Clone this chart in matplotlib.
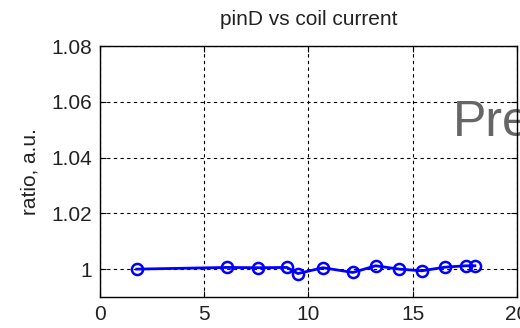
import matplotlib
matplotlib.use("Agg")
import matplotlib.pyplot as plt

coil_current = [1.76, 6.09, 7.6, 8.97, 9.49, 10.69, 12.13, 13.22, 14.34, 15.43, 16.55, 17.55, 17.98]
ratio = [1.0000, 1.0006, 1.0005, 1.0006, 0.9984, 1.0005, 0.9988, 1.0012, 1.0000, 0.9994, 1.0007, 1.0012, 1.0012]

x_ticks = [0, 5, 10, 15, 20]
y_ticks = [1.0, 1.02, 1.04, 1.06, 1.08]
y_tick_labels = ["1", "1.02", "1.04", "1.06", "1.08"]

plt.rcParams["font.family"] = ["Liberation Sans", "DejaVu Sans"]

fig = plt.figure(figsize=(5.2, 3.28), dpi=100)
ax = fig.add_axes([0.1923, 0.0945, 0.8019, 0.7652])

ax.plot(coil_current, ratio, color=(0, 0, 1), lw=2.0, marker="o", ms=8,
        mfc="none", mec=(0, 0, 1), mew=1.8, zorder=3)

ax.set_xlim(0, 20)
ax.set_ylim(0.99, 1.08)
ax.set_xticks(x_ticks)
ax.set_yticks(y_ticks)
ax.set_yticklabels(y_tick_labels)
ax.tick_params(direction="in", labelsize=15, labelcolor="#222222", top=True,
               right=True, length=4, pad=6)
ax.grid(True, color="black", linestyle=(0, (3, 3)), lw=0.8)
for s in ax.spines.values():
    s.set_linewidth(1.0)
    s.set_zorder(4)

ax.set_title("pinD vs coil current", fontsize=15, pad=15, color="#222222")
ax.set_ylabel("ratio, a.u.", fontsize=15, labelpad=8, color="#222222")

# watermark, cut off by the figure edge like in the original
ax.text(0.870, 0.585, "Preliminary", transform=fig.transFigure, fontsize=36,
        color="#666666", ha="left", va="baseline", clip_on=False, zorder=2)

fig.savefig("out.png", dpi=100)
